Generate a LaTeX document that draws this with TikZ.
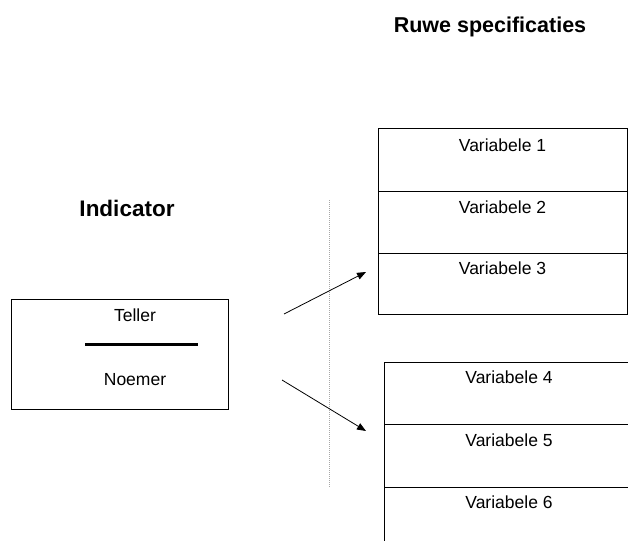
\documentclass[tikz,border=0pt]{standalone}
\usepackage{fontspec}
\setmainfont{Liberation Sans}
\usetikzlibrary{arrows.meta}
\begin{document}
\begin{tikzpicture}[x=1pt,y=-1pt,
  lbl/.style={anchor=base,inner sep=0pt,font=\fontsize{17.5}{20}\selectfont},
  ttl/.style={anchor=base,inner sep=0pt,font=\fontsize{21.5}{24}\selectfont\bfseries},
  frame/.style={draw=black,line width=0.9pt},
  conn/.style={draw=black,line width=0.8pt,-{Triangle[length=9pt,width=7pt]}}]
\useasboundingbox (0,0) rectangle (628,540);
% titles
\node[ttl] (ruwe) at (490,33) {Ruwe specificaties};
\node[ttl,font=\fontsize{22.5}{26}\selectfont\bfseries] (ind) at (127,216) {Indicator};
% indicator box
\draw[frame] (11,299) rectangle (228,409);
\node[lbl] (teller) at (135,321) {Teller};
\draw[line width=3pt] (85,344) -- (198,344);
\node[lbl] (noemer) at (135,385) {Noemer};
\coordinate (s1) at (284,314);
\coordinate (e1) at (366,272);
\coordinate (s2) at (282,380);
\coordinate (e2) at (366,431);
% top variable box
\draw[frame] (378,128) rectangle (627,314);
\draw[frame] (378,191) -- (627,191);
\draw[frame] (378,253) -- (627,253);
\node[lbl] (v1) at (502.5,152) {Variabele 1};
\node[lbl] (v2) at (502.5,213) {Variabele 2};
\node[lbl] (v3) at (502.5,274) {Variabele 3};
% bottom variable box
\draw[frame] (384,545) -- (384,362) -- (640,362);
\draw[frame] (384,424) -- (640,424);
\draw[frame] (384,487) -- (640,487);
\node[lbl] (v4) at (509,383) {Variabele 4};
\node[lbl] (v5) at (509,446) {Variabele 5};
\node[lbl] (v6) at (509,508) {Variabele 6};
% dotted separator
\draw[gray!70,line width=0.6pt,dash pattern=on 1pt off 1pt] (329,200) -- (329,487);
% arrows
\draw[conn] (s1) -- (e1);
\draw[conn] (s2) -- (e2);
\end{tikzpicture}
\end{document}
